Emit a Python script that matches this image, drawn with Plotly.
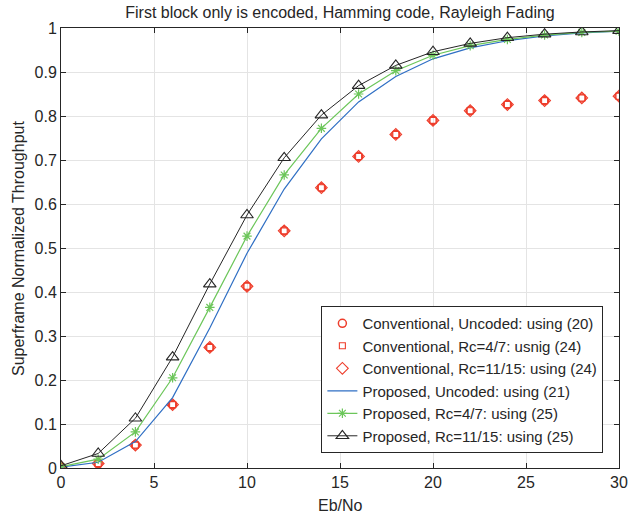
import plotly.graph_objects as go

# Eb/No grid (dB)
ebno = [0, 2, 4, 6, 8, 10, 12, 14, 16, 18, 20, 22, 24, 26, 28, 30]

# Conventional scheme: throughput from (20) and (24)
conv_uncoded = [0.002, 0.010, 0.052, 0.144, 0.274, 0.413, 0.539, 0.637, 0.708, 0.758, 0.790, 0.812, 0.826, 0.835, 0.841, 0.845]
conv_rc47 = [0.002, 0.010, 0.052, 0.144, 0.274, 0.413, 0.539, 0.637, 0.708, 0.758, 0.790, 0.812, 0.826, 0.835, 0.841, 0.845]
conv_rc1115 = [0.002, 0.010, 0.052, 0.144, 0.274, 0.413, 0.539, 0.637, 0.708, 0.758, 0.790, 0.812, 0.826, 0.835, 0.841, 0.845]

# Proposed scheme: throughput from (21) and (25)
prop_uncoded = [0.002, 0.013, 0.060, 0.160, 0.318, 0.488, 0.634, 0.748, 0.832, 0.890, 0.930, 0.955, 0.971, 0.982, 0.989, 0.993]
prop_rc47 = [0.003, 0.020, 0.082, 0.205, 0.365, 0.527, 0.666, 0.772, 0.850, 0.903, 0.938, 0.960, 0.974, 0.984, 0.990, 0.993]
prop_rc1115 = [0.005, 0.033, 0.113, 0.252, 0.418, 0.575, 0.705, 0.802, 0.869, 0.915, 0.946, 0.965, 0.978, 0.986, 0.991, 0.994]

x_ticks = [0, 5, 10, 15, 20, 25, 30]
y_ticks = [0, 0.1, 0.2, 0.3, 0.4, 0.5, 0.6, 0.7, 0.8, 0.9, 1]

RED = "#ee3e2c"
BLUE = "#2f6fc4"
GREEN = "#6cc65a"
BLACK = "#262626"
FONT = "Liberation Sans, Arial, sans-serif"

fig = go.Figure()

fig.add_trace(go.Scatter(
    x=ebno, y=conv_uncoded, mode="markers",
    name="Conventional, Uncoded: using (20)",
    marker=dict(symbol="circle-open", size=8, color=RED, line=dict(width=1.5)),
))
fig.add_trace(go.Scatter(
    x=ebno, y=conv_rc47, mode="markers",
    name="Conventional, Rc=4/7: usnig (24)",
    marker=dict(symbol="square-open", size=6, color=RED, line=dict(width=1.1)),
))
fig.add_trace(go.Scatter(
    x=ebno, y=conv_rc1115, mode="markers",
    name="Conventional, Rc=11/15: using (24)",
    marker=dict(symbol="diamond-open", size=9, color=RED, line=dict(width=1.1)),
))
fig.add_trace(go.Scatter(
    x=ebno, y=prop_uncoded, mode="lines",
    name="Proposed, Uncoded: using (21)",
    line=dict(color=BLUE, width=1.2),
))
fig.add_trace(go.Scatter(
    x=ebno, y=prop_rc47, mode="lines+markers",
    name="Proposed, Rc=4/7: using (25)",
    line=dict(color=GREEN, width=1.2),
    marker=dict(symbol="asterisk-open", size=8, color=GREEN, line=dict(width=1.2, color=GREEN)),
))
fig.add_trace(go.Scatter(
    x=ebno, y=prop_rc1115, mode="lines+markers",
    name="Proposed, Rc=11/15: using (25)",
    line=dict(color=BLACK, width=1.0),
    marker=dict(symbol="triangle-up-open", size=11, color=BLACK, line=dict(width=1.1)),
))

axis_common = dict(
    showline=True, linecolor=BLACK, linewidth=1, mirror="ticks",
    ticks="inside", ticklen=5, tickcolor=BLACK,
    showgrid=True, gridcolor="#e4e4e4", gridwidth=1,
    zeroline=False, automargin=False,
    tickfont=dict(family=FONT, size=16, color=BLACK),
)

fig.update_layout(
    width=628, height=518,
    margin=dict(l=61, r=9, t=28, b=50),
    paper_bgcolor="white", plot_bgcolor="white",
    font=dict(family=FONT, color=BLACK),
    title=dict(
        text="First block only is encoded, Hamming code, Rayleigh Fading",
        x=0.5, xanchor="center", xref="paper", y=0.977, yanchor="middle",
        font=dict(family=FONT, size=16, color=BLACK),
    ),
    xaxis=dict(range=[0, 30], tickvals=x_ticks, **axis_common),
    yaxis=dict(range=[0, 1], tickvals=y_ticks, ticktext=[f"{v:g}" for v in y_ticks], **axis_common),
    legend=dict(
        x=0.972, y=0.034, xanchor="right", yanchor="bottom",
        bgcolor="white", bordercolor=BLACK, borderwidth=1,
        font=dict(family=FONT, size=15, color=BLACK),
        tracegroupgap=0, itemsizing="trace",
    ),
    showlegend=True,
    annotations=[
        dict(text="Eb/No", xref="paper", yref="paper", x=0.5, y=-0.085,
             xanchor="center", yanchor="middle", showarrow=False,
             font=dict(family=FONT, size=16, color=BLACK)),
        dict(text="Superframe Normalized Throughput", xref="paper", yref="paper",
             x=-0.077, y=0.5, xanchor="center", yanchor="middle", textangle=-90,
             showarrow=False, font=dict(family=FONT, size=16, color=BLACK)),
    ],
)

fig.write_html("out.html")
